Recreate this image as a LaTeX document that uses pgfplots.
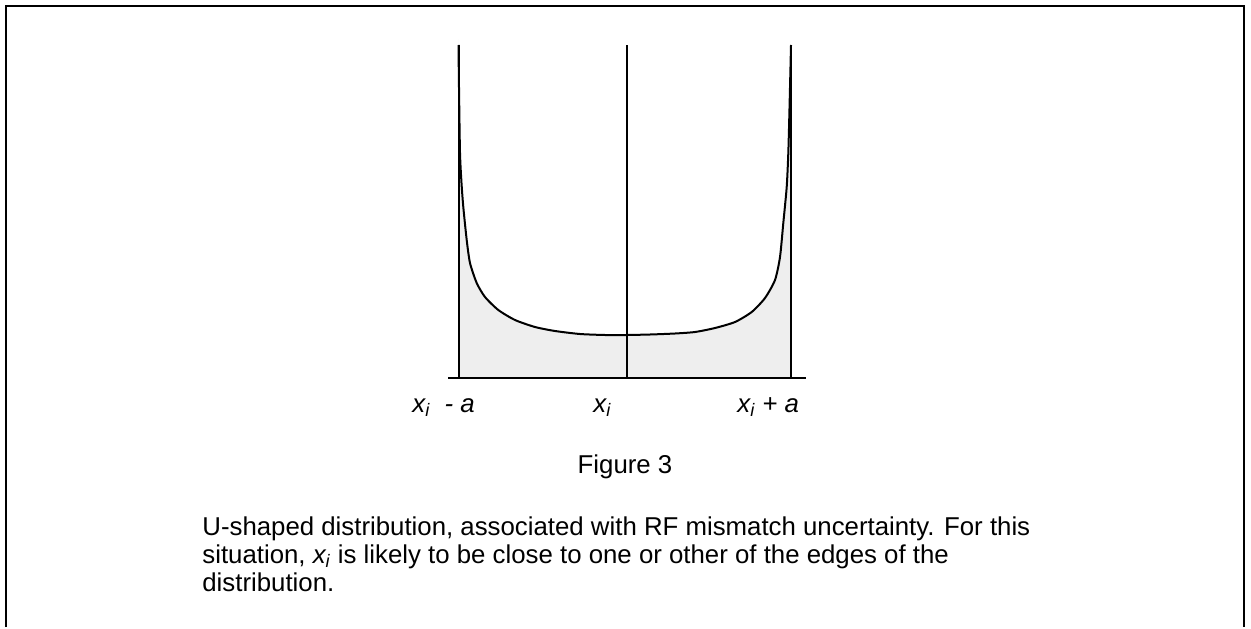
\documentclass[border=0pt]{standalone}
\usepackage{fontspec}
\setmainfont{Liberation Sans}
\usepackage{pgfplots}
\pgfplotsset{compat=1.18}
\definecolor{ufill}{HTML}{EEEEEE}

% coordinates in pixels: x to the right,
% y = height above the baseline of the plot
\tikzset{txt/.style={font=\fontsize{12.9}{14}\selectfont, inner sep=0pt, anchor=base west}}

\begin{document}
\begin{tikzpicture}
\begin{axis}[
    at={(0,0)}, anchor=south west,
    scale only axis,
    width=625.5pt, height=313.5pt,
    xmin=0, xmax=1251, ymin=-249, ymax=378,
    axis lines=none, ticks=none,
    clip=false,
]
\path (rel axis cs:0,0) rectangle (rel axis cs:1,1);

% shaded area under the U-shaped curve
\addplot[draw=none, fill=ufill, smooth, tension=0.3] coordinates {
    (458.5,0) (458.5,333) (459,290) (460,225) (461.5,195) (463.3,171)
    (466.7,138) (470,115) (476.7,95) (485,81) (498.3,68) (515,58)
    (535,51) (555,47) (580,44) (605,43) (627,43) (650,43.5) (675,44.5)
    (695,46) (715,50) (735,56) (751.7,66) (765,80) (775,98) (780,121)
    (783.3,155) (786.7,191) (788.3,225) (789.5,270) (791,333) (791,0)
} -- cycle;

% the curve
\addplot[black, line width=1pt, smooth, tension=0.4] coordinates {
    (458.5,333) (459,290) (460,225) (461.5,195) (463.3,171)
    (466.7,138) (470,115) (476.7,95) (485,81) (498.3,68) (515,58)
    (535,51) (555,47) (580,44) (605,43) (627,43) (650,43.5) (675,44.5)
    (695,46) (715,50) (735,56) (751.7,66) (765,80) (775,98) (780,121)
    (783.3,155) (786.7,191) (788.3,225) (789.5,270) (791,333)
};

% baseline and the three vertical lines
\addplot[black, line width=1pt] coordinates {(448,0) (806,0)};
\addplot[black, line width=1pt] coordinates {(458.5,0) (458.5,333)};
\addplot[black, line width=1pt] coordinates {(627,0) (627,333)};
\addplot[black, line width=1pt] coordinates {(791,0) (791,333)};

% frame round the figure (open at the bottom)
\addplot[black, line width=1pt] coordinates {(6,-249) (6,372) (1244,372) (1244,-249)};

% labels under the axis
\node[txt] at (axis cs:412,-34) {\itshape x\textsubscript{i}\ \ - a};
\node[txt] at (axis cs:593,-34) {\itshape x\textsubscript{i}};
\node[txt] at (axis cs:737,-34) {\itshape x\textsubscript{i} + a};

\node[txt, anchor=base] at (axis cs:625,-95) {Figure 3};

\node[txt] at (axis cs:202,-157)
    {U-shaped distribution, associated with RF mismatch uncertainty. For this};
\node[txt] at (axis cs:202,-185)
    {situation, \textit{x\textsubscript{i}} is likely to be close to one or other of the edges of the};
\node[txt] at (axis cs:202,-213) {distribution.};
\end{axis}
\end{tikzpicture}
\end{document}
